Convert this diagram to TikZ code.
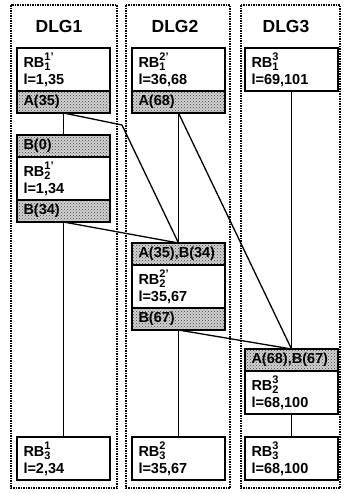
\documentclass[tikz,border=0pt]{standalone}
\usepackage{fontspec}
\setmainfont{Liberation Sans}
\usetikzlibrary{positioning,patterns}
\newcommand{\rbname}[2]{RB\rlap{\raisebox{0.5em}{\fontsize{11}{11}\selectfont #1}}\raisebox{-0.2em}{\fontsize{11}{11}\selectfont #2}}

\begin{document}
\begin{tikzpicture}[x=1pt, y=-1pt, line width=1.3pt,
  font=\bfseries\fontsize{14.5}{17}\selectfont,
  frame/.style={draw, line width=2.2pt, dash pattern=on 1.5pt off 1pt},
  title/.style={font=\bfseries\fontsize{17.5}{17.5}\selectfont},
  body/.style={draw, fill=white, outer sep=0pt, minimum width=93pt, minimum height=43pt,
    text width=80pt, align=left, inner xsep=6.5pt, inner ysep=1pt},
  tag/.style={draw, line width=2pt, outer sep=0pt, minimum width=93pt, minimum height=22pt,
    text width=80pt, align=left, inner xsep=6.5pt, inner ysep=1pt,
    preaction={fill=gray!35}, pattern=crosshatch dots, pattern color=black!75}]
  \useasboundingbox (0,0) rectangle (343,493);
  % dialogue columns
  \draw[frame] (11,5) rectangle (117,488);
  \draw[frame] (126,5) rectangle (230,488);
  \draw[frame] (241,5) rectangle (340,488);
  \node[title] (t1) at (59,26) {DLG1};
  \node[title] (t2) at (175,26) {DLG2};
  \node[title] (t3) at (286,26) {DLG3};
  % DLG1
  \node[body, anchor=north west] (rb11) at (17,48) {\rbname{1'}{1}\\l=1,35};
  \node[tag, below=0pt of rb11] (a35) {A(35)};
  \node[tag, anchor=north west] (b0) at (17,135) {B(0)};
  \node[body, below=0pt of b0] (rb12) {\rbname{1'}{2}\\l=1,34};
  \node[tag, below=0pt of rb12] (b34) {B(34)};
  \node[body, anchor=north west] (rb13) at (17,437) {\rbname{1}{3}\\l=2,34};
  % DLG2
  \node[body, anchor=north west] (rb21) at (132,48) {\rbname{2'}{1}\\l=36,68};
  \node[tag, below=0pt of rb21] (a68) {A(68)};
  \node[tag, anchor=north west] (a35b34) at (132,243) {A(35),B(34)};
  \node[body, below=0pt of a35b34] (rb22) {\rbname{2'}{2}\\l=35,67};
  \node[tag, below=0pt of rb22] (b67) {B(67)};
  \node[body, anchor=north west] (rb23) at (132,437) {\rbname{2}{3}\\l=35,67};
  % DLG3
  \node[body, anchor=north west] (rb31) at (245,48) {\rbname{3}{1}\\l=69,101};
  \node[tag, anchor=north west] (a68b67) at (245,349) {A(68),B(67)};
  \node[body, below=0pt of a68b67] (rb32) {\rbname{3}{2}\\l=68,100};
  \node[body, anchor=north west] (rb33) at (245,437) {\rbname{3}{3}\\l=68,100};
  \coordinate (kink) at (122,125);
  % links
  \draw (a35) -- (b0);
  \draw (b34) -- (rb13);
  \draw (a68) -- (a35b34);
  \draw (b67) -- (rb23);
  \draw (rb31) -- (a68b67);
  \draw (rb32) -- (rb33);
  \draw (a35.south) -- (kink) -- (a35b34.north);
  \draw (b34.south) -- (a35b34.north);
  \draw (a68.south) -- (a68b67.north);
  \draw (b67.south) -- (a68b67.north);
\end{tikzpicture}
\end{document}
